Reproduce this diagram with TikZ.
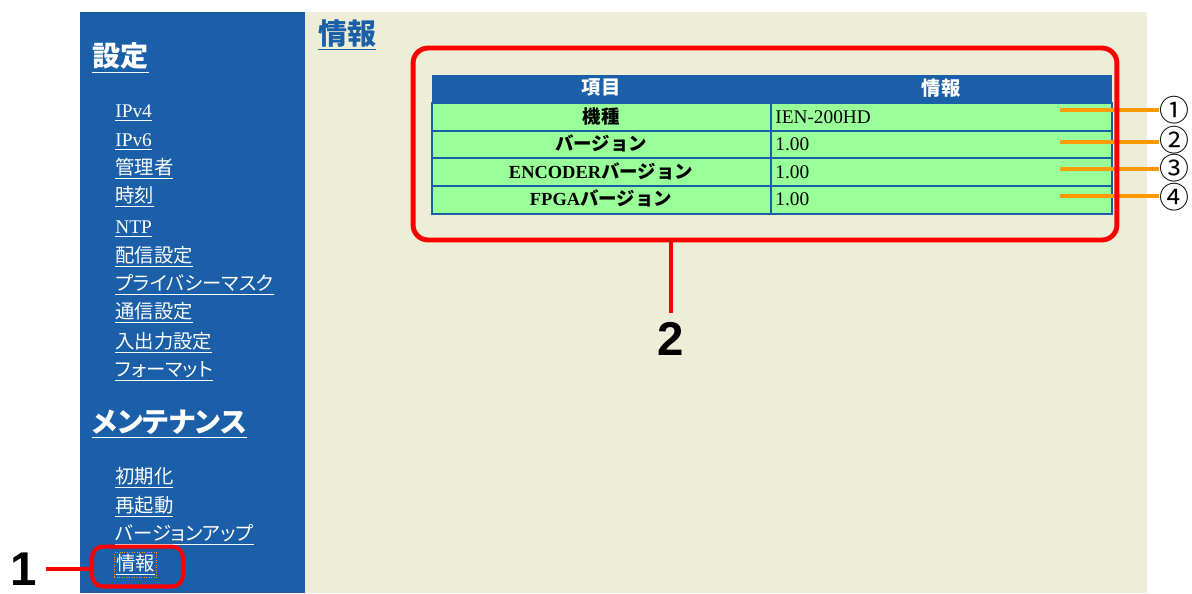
\documentclass[tikz,border=0pt]{standalone}
\usepackage{fontspec}
\setmainfont{Liberation Serif}
\newfontfamily\jp{Noto Sans CJK JP}
\newfontfamily\jpp[RawFeature=+palt]{Noto Sans CJK JP}
\newfontfamily\arialfnt{Liberation Sans}
\definecolor{sideblue}{RGB}{26,95,168}
\definecolor{pagebeige}{RGB}{238,237,216}
\definecolor{rowgreen}{RGB}{153,255,153}
\definecolor{markred}{RGB}{255,0,0}
\definecolor{markorange}{RGB}{255,153,0}
\tikzset{
  menu/.style={anchor=west, inner sep=0pt, text=white, font=\jpp\fontsize{11}{13}\selectfont},
  menurm/.style={anchor=west, inner sep=0pt, text=white, font=\fontsize{11}{13}\selectfont},
  menuhead/.style={anchor=west, inner sep=0pt, text=white, font=\jpp\bfseries\fontsize{16}{19}\selectfont},
  cell/.style={draw=sideblue, line width=1.1pt, fill=rowgreen},
  rowlabel/.style={inner sep=0pt, font=\jp\bfseries\fontsize{10.5}{13}\selectfont},
  rowvalue/.style={anchor=west, inner sep=0pt, font=\fontsize{11}{13}\selectfont},
  callout/.style={inner sep=5pt, font=\arialfnt\bfseries\fontsize{27}{30}\selectfont},
  redbox/.style={draw=markred, line width=2.3pt, rounded corners=0.22cm},
  redline/.style={draw=markred, line width=1.8pt},
  orline/.style={draw=markorange, line width=2.2pt},
  circnum/.style={inner sep=0pt, font=\jp\fontsize{17}{19}\selectfont}
}
\begin{document}
\begin{tikzpicture}[x=0.02cm, y=-0.02cm]
      \useasboundingbox (0,0) rectangle (1192,593);
      \fill[white] (0,0) rectangle (1192,593);
      % page
      \fill[sideblue] (80,12) rectangle (305,593);
      \fill[pagebeige] (305,12) rectangle (1147,593);

      % menu
      \node[menuhead] (m-set) at (92,58) {\underline{設定}};
      \node[menurm] (m-ipv4) at (115,113) {\underline{IPv4}};
      \node[menurm] (m-ipv6) at (115,142) {\underline{IPv6}};
      \node[menu] (m-admin) at (115,169) {\underline{管理者}};
      \node[menu] (m-time) at (115,197) {\underline{時刻}};
      \node[menurm] (m-ntp) at (115,229) {\underline{NTP}};
      \node[menu] (m-stream) at (115,257) {\underline{配信設定}};
      \node[menu] (m-mask) at (115,285) {\underline{プライバシーマスク}};
      \node[menu] (m-comm) at (115,313) {\underline{通信設定}};
      \node[menu] (m-io) at (115,343) {\underline{入出力設定}};
      \node[menu] (m-format) at (115,371) {\underline{フォーマット}};
      \node[menuhead] (m-maint) at (92,424) {\underline{メンテナンス}};
      \node[menu] (m-init) at (115,478) {\underline{初期化}};
      \node[menu] (m-reboot) at (115,507) {\underline{再起動}};
      \node[menu] (m-update) at (115,535) {\underline{バージョンアップ}};
      \node[menu, draw=markorange, densely dotted, inner sep=1pt] (m-info) at (114,565) {\underline{情報}};

      % page title
      \node[anchor=west, inner sep=0pt, text=sideblue, font=\jp\bfseries\fontsize{16.5}{19}\selectfont] (title) at (318,35) {\underline{情報}};

      % table
      \fill[sideblue] (432,75) rectangle (1112,103);
      \node[inner sep=0pt, text=white, font=\jp\bfseries\fontsize{11}{13}\selectfont] (h-item) at (601,88) {項目};
      \node[inner sep=0pt, text=white, font=\jp\bfseries\fontsize{11}{13}\selectfont] (h-info) at (941,88) {情報};
      \draw[cell] (432,103) rectangle (771,131);
      \draw[cell] (771,103) rectangle (1112,131);
      \draw[cell] (432,131) rectangle (771,158);
      \draw[cell] (771,131) rectangle (1112,158);
      \draw[cell] (432,158) rectangle (771,186);
      \draw[cell] (771,158) rectangle (1112,186);
      \draw[cell] (432,186) rectangle (771,214);
      \draw[cell] (771,186) rectangle (1112,214);

      \node[rowlabel] (l-model) at (601,116) {機種};
      \node[rowlabel] (l-ver) at (601,143) {バージョン};
      \node[rowlabel] (l-enc) at (601,171) {{\rmfamily ENCODER}バージョン};
      \node[rowlabel] (l-fpga) at (601,198) {{\rmfamily FPGA}バージョン};
      \node[rowvalue] (v-model) at (775,117) {IEN-200HD};
      \node[rowvalue] (v-ver) at (775,144) {1.00};
      \node[rowvalue] (v-enc) at (775,172) {1.00};
      \node[rowvalue] (v-fpga) at (775,199) {1.00};

      % callouts
      \node[circnum] (c1) at (1174,110) {①};
      \node[circnum] (c2) at (1174,140) {②};
      \node[circnum] (c3) at (1174,168) {③};
      \node[circnum] (c4) at (1174,197) {④};
      \coordinate (o1) at (1060,110);
      \coordinate (o2) at (1060,142);
      \coordinate (o3) at (1060,169);
      \coordinate (o4) at (1060,196);
      \draw[orline] (o1) -- (c1.west |- o1);
      \draw[orline] (o2) -- (c2.west |- o2);
      \draw[orline] (o3) -- (c3.west |- o3);
      \draw[orline] (o4) -- (c4.west |- o4);

      \node[redbox, minimum width=1.82cm, minimum height=0.8cm] (box1) at (137.5,566.5) {};
      \node[callout] (n1) at (24,569) {1};
      \draw[redline] (n1.east) -- (n1.east -| box1.west);

      \node[redbox, line width=2.8pt, rounded corners=0.3cm, minimum width=14.08cm, minimum height=3.84cm] (box2) at (765,144) {};
      \node[callout] (n2) at (671,339) {2};
      \draw[redline, line width=2.8pt] (box2.south -| n2.north) -- (n2.north);
    \end{tikzpicture}
\end{document}
